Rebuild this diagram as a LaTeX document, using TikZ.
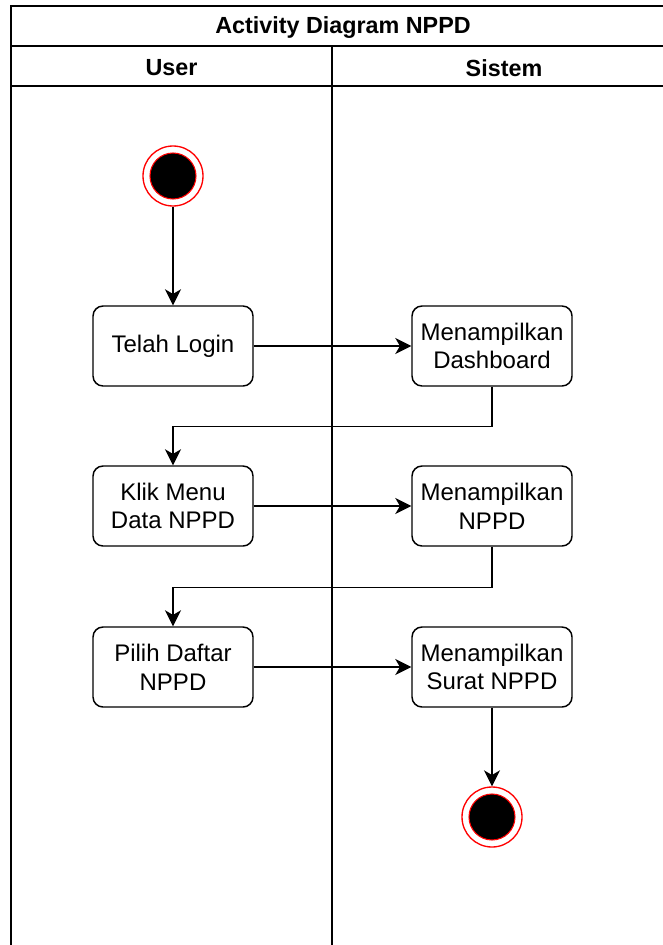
\documentclass[tikz,border=0pt]{standalone}
\usepackage{fontspec}
\setmainfont{Liberation Sans}
\usetikzlibrary{arrows.meta}
\begin{document}
\begin{tikzpicture}[x=0.75pt,y=-0.75pt,
    act/.style={draw,line width=1.1pt,rounded corners=7.5pt,minimum width=120pt,
      minimum height=60pt,inner sep=0pt,align=center,font=\fontsize{18}{21.6}\selectfont},
    state/.style={circle,draw=red,line width=1pt,minimum size=45pt,inner sep=0pt},
    statedot/.style={fill=black,draw=red,line width=0.8pt},
    head/.style={font=\bfseries\fontsize{17.5}{21}\selectfont},
    lane/.style={line width=1.1pt},
    flow/.style={line width=1.1pt,-{Stealth[length=12pt,width=12pt,inset=3.5pt]}}]
      \useasboundingbox (0,0) rectangle (662,945);
      % swimlanes
      \draw[lane] (11,6) rectangle (676,960);
      \draw[lane] (11,46) -- (676,46);
      \draw[lane] (11,86) -- (676,86);
      \draw[lane] (332,46) -- (332,960);
      \path
        (343,28) node[head] (title){Activity Diagram NPPD}
        (171.5,68) node[head] (user){User}
        (504,68) node[head] (sistem){Sistem};
      % activities
      \path
        (173,176) node[state] (start){}
        (173,346) node[act] (login){Telah Login}
        (492,346) node[act] (dash){Menampilkan\\Dashboard}
        (173,506) node[act] (menu){Klik Menu\\Data NPPD}
        (492,506) node[act] (nppd){Menampilkan\\NPPD}
        (173,667) node[act] (daftar){Pilih Daftar\\NPPD}
        (492,667) node[act] (surat){Menampilkan\\Surat NPPD}
        (492,817) node[state] (end){};
      \filldraw[statedot] (start.center) circle (17.25pt);
      \filldraw[statedot] (end.center) circle (17.25pt);
      \begin{scope}[flow]
        \draw (start) to (login);
        \draw (login) to (dash);
        \draw (dash.south) -- ++(0,40) -| (menu.north);
        \draw (menu) to (nppd);
        \draw (nppd.south) -- ++(0,41) -| (daftar.north);
        \draw (daftar) to (surat);
        \draw (surat) to (end);
      \end{scope}
    \end{tikzpicture}
\end{document}
